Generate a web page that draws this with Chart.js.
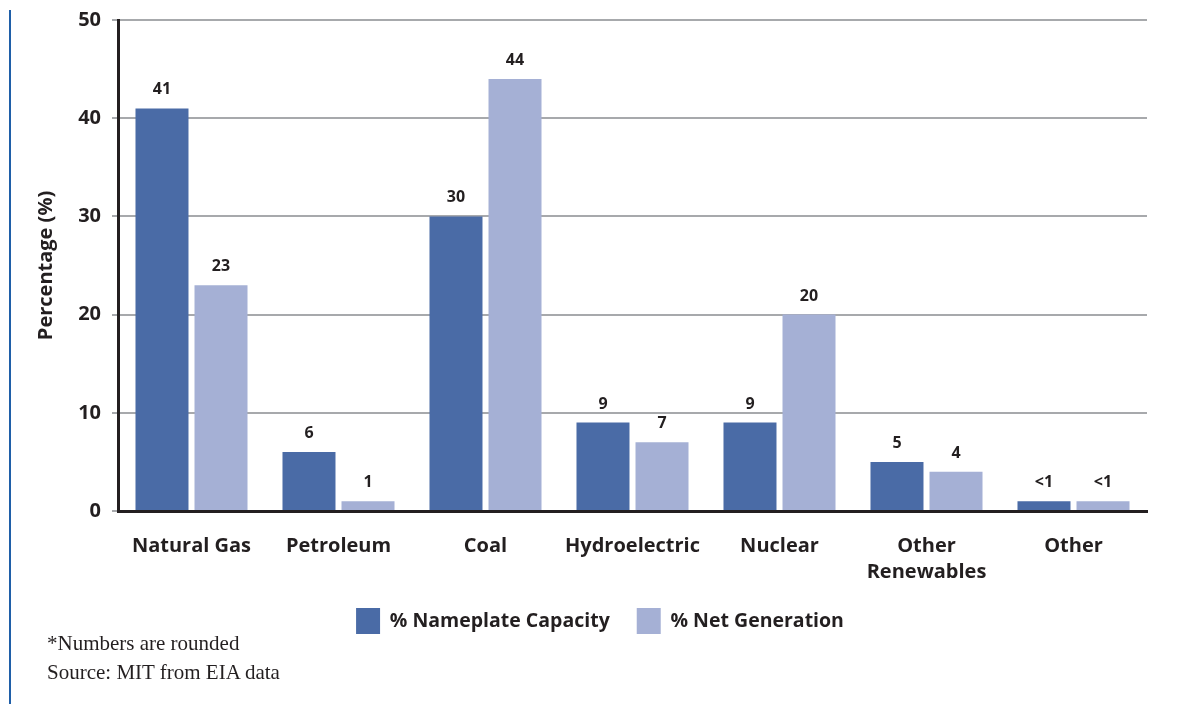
<!DOCTYPE html>
<html>
<head>
<meta charset="utf-8">
<script src="https://cdn.jsdelivr.net/npm/chart.js@4/dist/chart.umd.min.js"></script>
<style>
  body { margin: 0; background: #fff; }
  #wrap { position: relative; width: 1177px; height: 704px; }
  #edge { position: absolute; left: 9px; top: 10px; width: 2px; height: 694px; background: #1f5fa8; }
  .note { position: absolute; left: 47px; font-family: "Liberation Serif", serif; font-size: 21px; line-height: 24px; color: #231f20; }
</style>
</head>
<body>
<div id="wrap">
  <canvas id="energy_chart" width="1177" height="704" style="width:1177px;height:704px"></canvas>
  <div id="edge"></div>
  <div class="note" style="top:631px">*Numbers are rounded</div>
  <div class="note" style="top:660px">Source: MIT from EIA data</div>
</div>
<script>
const categories = ["Natural Gas", "Petroleum", "Coal", "Hydroelectric", "Nuclear", ["Other", "Renewables"], "Other"];
const nameplateCapacity = [41, 6, 30, 9, 9, 5, 1];
const netGeneration = [23, 1, 44, 7, 20, 4, 1];
// printed labels (the last bars are "<1")
const nameplateLabels = ["41", "6", "30", "9", "9", "5", "<1"];
const generationLabels = ["23", "1", "44", "7", "20", "4", "<1"];
const yTicks = [0, 10, 20, 30, 40, 50];

const textColor = "#231f20";
const fontName = "'Open Sans', sans-serif";

// numbers above the bars
const valueLabels = {
  id: "valueLabels",
  afterDatasetsDraw(chart) {
    let ctx = chart.ctx;
    let texts = [nameplateLabels, generationLabels];
    ctx.save();
    ctx.font = "bold 16px " + fontName;
    ctx.fillStyle = textColor;
    ctx.textAlign = "center";
    ctx.textBaseline = "alphabetic";
    chart.data.datasets.forEach(function (ds, i) {
      chart.getDatasetMeta(i).data.forEach(function (bar, j) {
        ctx.fillText(texts[i][j], bar.x, bar.y - 14);
      });
    });
    ctx.restore();
  }
};

new Chart("energy_chart", {
  type: "bar",
  data: {
    labels: categories,
    datasets: [{
      label: "% Nameplate Capacity",
      data: nameplateCapacity,
      backgroundColor: "#4a6ba6"
    }, {
      label: "% Net Generation",
      data: netGeneration,
      backgroundColor: "#a5b0d5"
    }]
  },
  options: {
    responsive: false,
    animation: false,
    categoryPercentage: 0.803,
    barPercentage: 0.898,
    layout: {padding: {left: 53, right: 30, top: 0, bottom: 60}},
    plugins: {
      tooltip: {enabled: false},
      legend: {
        position: "bottom",
        labels: {
          boxWidth: 24,
          boxHeight: 26,
          padding: 27,
          color: textColor,
          font: {family: fontName, size: 19.5, weight: "bold"}
        }
      }
    },
    scales: {
      x: {
        grid: {display: false, drawTicks: false},
        border: {color: textColor, width: 3},
        ticks: {
          color: textColor,
          padding: 22,
          maxRotation: 0,
          font: {family: fontName, size: 20, weight: "bold", lineHeight: 1.3}
        },
        afterFit: function (s) { s.height = 70; }
      },
      y: {
        min: 0,
        max: 50,
        afterBuildTicks: function (s) { s.ticks = yTicks.map(v => ({value: v})); },
        grid: {color: "#a7a9ac", lineWidth: 2, tickLength: 6},
        border: {color: textColor, width: 3},
        ticks: {
          color: textColor,
          padding: 11,
          font: {family: fontName, size: 20, weight: "bold"}
        },
        title: {
          display: true,
          text: "Percentage (%)",
          color: textColor,
          padding: {top: -19, bottom: 0},
          font: {family: fontName, size: 20, weight: "bold"}
        },
        afterFit: function (s) {
          s.width = 65;
          s.paddingTop = 20;
        }
      }
    }
  },
  plugins: [valueLabels]
});
</script>
</body>
</html>
